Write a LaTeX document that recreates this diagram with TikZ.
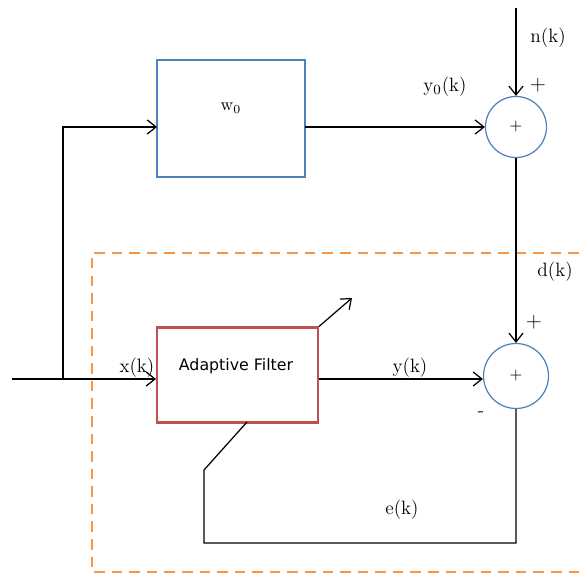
\documentclass[tikz,border=0pt]{standalone}
\usepackage{fontspec}
\newfontfamily\boxfont{DejaVu Sans}
\definecolor{blockblue}{HTML}{4F81BD}
\definecolor{blockred}{HTML}{C0504D}
\definecolor{dashorange}{HTML}{F79646}
\usetikzlibrary{arrows.meta,positioning,calc}

\tikzset{
  sig/.style={line width=0.7pt,-{Straight Barb[length=5pt,width=8pt]}},
  wire/.style={line width=0.7pt},
  sumnode/.style={circle,draw=blockblue,line width=0.7pt,minimum size=1.22cm,inner sep=0pt,font=\small},
  lbl/.style={font=\fontsize{11}{13}\selectfont,inner sep=0pt}
}

\begin{document}
\begin{tikzpicture}[x=0.02cm,y=-0.02cm]
\useasboundingbox (0,0) rectangle (579,574);

% blocks
\node[draw=blockblue,line width=0.8pt,minimum width=2.96cm,minimum height=2.34cm] (w0) at (231,118.5) {};
\node[font=\fontsize{10}{12}\selectfont] (w0txt) at (231,108) {w$_0$};
\node[draw=blockred,line width=1.2pt,minimum width=3.22cm,minimum height=1.9cm] (af) at (237.5,375) {};
\node[font=\boxfont\fontsize{9}{11}\selectfont] (aftxt) at (236,366) {Adaptive Filter};
\node[sumnode] (sumtop) at (516,127) {+};
\node[sumnode,minimum size=1.3cm] (sumbot) at (516,376) {+};

% dashed region
\draw[dashorange,line width=1.6pt,dash pattern=on 6pt off 4pt] (579,253) -- (92,253) -- (92,572) -- (579,572);

% points
\coordinate (xin) at (12,379);
\coordinate (xbr) at (63,379);
\coordinate (w0in) at (157,127);
\coordinate (w0out) at (305,127);
\coordinate (ntop) at (516,8);
\coordinate (adapt) at (352,298);
\coordinate (ecorner) at (516,543);
\coordinate (ebend) at (204,470);
\coordinate (efb) at (247,422);

% signal lines
\draw[sig] (xin) -- (af.west |- xin);
\draw[sig] (xbr) |- (w0in);
\draw[sig] (w0out) -- (sumtop.west);
\draw[sig] (ntop) -- (sumtop.north);
\draw[sig] (sumtop.south) -- (sumbot.north);
\draw[sig] (af.east |- xin) -- (sumbot.west |- xin);
\draw[wire,-{Straight Barb[length=5pt,width=8pt]}] (af.north east) -- (adapt);
\draw[wire] (sumbot.south) -- (ecorner) -| (ebend) -- (efb);

% labels
\node[lbl] (lx) at (137,368) {x(k)};
\node[lbl] (ly) at (410,368) {y(k)};
\node[lbl] (ly0) at (445,87) {y$_0$(k)};
\node[lbl] (ln) at (548,38) {n(k)};
\node[lbl] (ld) at (555,272) {d(k)};
\node[lbl] (le) at (402,510) {e(k)};
\node[lbl,font=\large] (p1) at (538,85) {+};
\node[lbl,font=\large] (p2) at (534,322) {+};
\node[lbl] (m1) at (481,414) {-};
\end{tikzpicture}
\end{document}
